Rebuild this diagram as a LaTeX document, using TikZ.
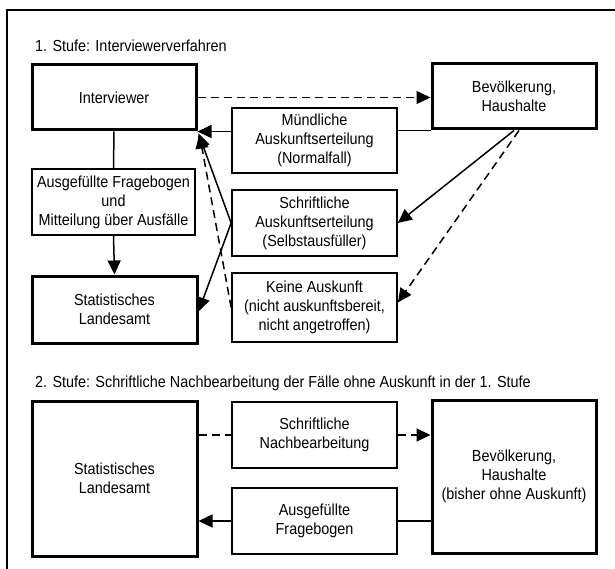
\documentclass[tikz,border=0pt]{standalone}
\usepackage{fontspec}
\setmainfont{Liberation Sans}[FakeStretch=0.9]
\usetikzlibrary{arrows.meta}
\newcommand{\wB}{3pt}
\newcommand{\wT}{1.7pt}
\newcommand{\wL}{1.5pt}
\newcommand{\fs}{\fontsize{16}{19}\selectfont}
\tikzset{
  fbox/.style={draw,line width=\wT,minimum width=165pt,minimum height=66pt,inner sep=2pt,align=center,font=\fs},
  fboxB/.style={fbox,line width=\wB},
  conn/.style={line width=\wL},
  arr/.style={conn,-{Triangle[length=14pt,width=13pt]}},
  dsh/.style={dash pattern=on 8pt off 5pt}
}

\begin{document}
\begin{tikzpicture}[x=1pt,y=-1pt]
    \useasboundingbox (0,0) rectangle (615,569);
    \fill[white] (0,0) rectangle (615,569);
    % --- --- --- frame
    \draw[line width=1.4pt] (615,10) -- (7,10) -- (7,569);
    % --- --- --- titles
    \node[anchor=base west,inner sep=0pt,font=\fs] (tA) at (35,52) {1. Stufe: Interviewerverfahren};
    \node[anchor=base west,inner sep=0pt,font=\fs] (tB) at (35,387) {2. Stufe: Schriftliche Nachbearbeitung der Fälle ohne Auskunft in der 1. Stufe};
    % === === === Stage 1
    \node[fboxB,minimum width=164pt,minimum height=65pt] (intv) at (114,97.5) {Interviewer};
    \node[fboxB,minimum width=164pt,minimum height=65pt] (bev) at (514,96.5) {Bevölkerung,\\Haushalte};
    \node[fbox,minimum height=65pt] (muend) at (314.5,140.5) {Mündliche\\Auskunftserteilung\\(Normalfall)};
    \node[fbox,minimum width=163pt] (ausg) at (113.5,202) {Ausgefüllte Fragebogen\\und\\Mitteilung über Ausfälle};
    \node[fbox] (schr) at (314.5,223) {Schriftliche\\Auskunftserteilung\\(Selbstausfüller)};
    \node[fbox,minimum height=69pt] (keine) at (314.5,307.5) {Keine Auskunft\\(nicht auskunftsbereit,\\nicht angetroffen)};
    \node[fboxB,minimum height=67pt] (statA) at (114.5,309.5) {Statistisches\\Landesamt};
    % --- --- --- connectors
    \draw[arr,dsh] (intv.east) -- (intv.east -| bev.west);
    \draw[conn] (bev.south west) -- (bev.south west -| muend.east);
    \draw[arr] (muend.west |- intv.south east) -- (intv.south east);
    \draw[arr] (bev.south) -- (schr.east);
    \draw[arr,dsh] ([xshift=5pt]bev.south) -- ([yshift=5pt]keine.east);
    \draw[arr] (schr.west) -- ([xshift=1pt,yshift=-2pt]intv.south east);
    \draw[arr] (schr.west) -- ([yshift=-2pt]statA.east);
    \draw[arr,dsh] (keine.west) -- ([xshift=2pt,yshift=-3pt]intv.south east);
    \draw[conn] (intv.south) -- (ausg.north);
    \draw[arr] (ausg.south) -- (statA.north);
    % === === === Stage 2
    \node[fboxB,minimum height=155pt] (statB) at (114.5,478.5) {Statistisches\\Landesamt};
    \node[fbox] (nach) at (314.5,435) {Schriftliche\\Nachbearbeitung};
    \node[fbox] (ausgB) at (314.5,521) {Ausgefüllte\\Fragebogen};
    \node[fboxB,minimum width=164pt,minimum height=153pt] (bevB) at (514,476.5) {Bevölkerung,\\Haushalte\\(bisher ohne Auskunft)};
    % --- --- --- connectors
    \draw[conn,dsh] (statB.east |- nach.west) -- (nach.west);
    \draw[arr,dsh] (nach.east) -- (nach.east -| bevB.west);
    \draw[conn] (bevB.west |- ausgB.east) -- (ausgB.east);
    \draw[arr] (ausgB.west) -- (ausgB.west -| statB.east);
\end{tikzpicture}
\end{document}
